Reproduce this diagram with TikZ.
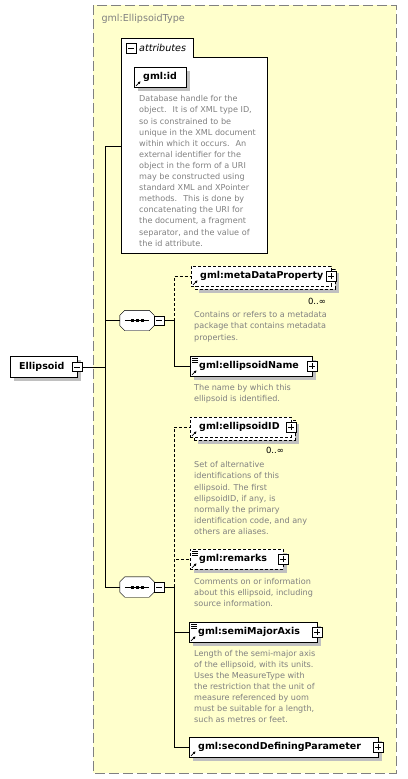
\documentclass[tikz,border=0pt]{standalone}
\usepackage{fontspec}
\setmainfont{DejaVu Sans}
\usetikzlibrary{shadows,arrows.meta}

\definecolor{typefill}{RGB}{255,255,204}
\definecolor{typeline}{RGB}{128,128,128}
\definecolor{doctext}{RGB}{128,128,128}
\definecolor{shade}{RGB}{192,192,192}

\tikzset{
  elembase/.style={draw, fill=white, anchor=north west, minimum height=20pt,
    inner sep=0pt, text width=#1pt, align=left,
    font=\fontsize{9.5}{11}\selectfont\bfseries,
    execute at begin node=\hspace*{9pt}},
  elem/.style={elembase=#1,
    drop shadow={shadow xshift=4pt, shadow yshift=-4pt, fill=shade, opacity=1}},
  optional/.style={dash pattern=on 3pt off 2pt},
  multielem/.style={elembase=#1, optional,
    drop shadow={shadow xshift=8pt, shadow yshift=-7pt, fill=shade, opacity=1},
    copy shadow={shadow xshift=4pt, shadow yshift=-3pt, draw, fill=white, optional}},
  toggle/.style={draw, fill=white, solid, minimum size=9.5pt, inner sep=0pt},
  minus/.style={toggle, path picture={
    \draw ([xshift=-3pt]path picture bounding box.center) -- ([xshift=3pt]path picture bounding box.center);}},
  plus/.style={toggle, path picture={
    \draw ([xshift=-3pt]path picture bounding box.center) -- ([xshift=3pt]path picture bounding box.center);
    \draw ([yshift=-3pt]path picture bounding box.center) -- ([yshift=3pt]path picture bounding box.center);}},
  seq/.style={minimum width=34pt, minimum height=20pt, inner sep=0pt},
  doc/.style={anchor=north west, inner sep=0pt, align=left,
    font=\fontsize{8.1}{11.1}\selectfont, text=doctext},
  mult/.style={inner sep=0pt, font=\fontsize{8.5}{10}\selectfont},
  refarrow/.style={-{Triangle[length=2.5pt,width=2.5pt]}, line width=0.8pt},
}

\begin{document}
\begin{tikzpicture}[x=1pt, y=-1pt]
  \useasboundingbox (0,0) rectangle (407,779);
  % complex type box
  \draw[fill=typefill, draw=typeline, line width=1pt, dash pattern=on 10pt off 4pt] (93,5) rectangle (396,773);
  \node[anchor=west, text=typeline, font=\fontsize{9.6}{11}\selectfont] (typetitle) at (98,19) {gml:EllipsoidType};

  % attributes
  \draw[fill=white] (121,253) -- (121,38) -- (193,38) -- (193,57) -- (267,57) -- (267,253) -- cycle;
  \node[minus] (attrT) at (131,48) {};
  \node[anchor=west, inner sep=0pt, font=\fontsize{9.6}{11}\selectfont\itshape] (attrlabel) at (139,48) {attributes};
  \coordinate (attrhook) at (121,146);
  \node[elem=52] (gmlid) at (134,67) {gml:id};
  \node[doc] (iddoc) at (139,95.5) {Database handle for the\\object.~ It is of XML type ID,\\so is constrained to be\\unique in the XML document\\within which it occurs.~ An\\external identifier for the\\object in the form of a URI\\may be constructed using\\standard XML and XPointer\\methods.~ This is done by\\concatenating the URI for\\the document, a fragment\\separator, and the value of\\the id attribute.};

  % root element
  \node[elem=67, minimum height=21pt] (ellipsoid) at (10,356) {Ellipsoid};
  \node[minus] (ellT) at (ellipsoid.east) {};
  \coordinate (spine) at (105,0);
  \coordinate (branch) at (174,0);

  % sequences
  \node[seq] (seqA) at (137,320.5) {};
  \node[seq] (seqB) at (137,587) {};
  \foreach \s in {seqA,seqB} {
    \fill[shade, shift={(4,4)}] ([xshift=5pt]\s.north west) -- ([xshift=-5pt]\s.north east)
      -- ([yshift=-5pt]\s.north east) -- ([yshift=5pt]\s.south east) -- ([xshift=-5pt]\s.south east)
      -- ([xshift=5pt]\s.south west) -- ([yshift=5pt]\s.south west) -- ([yshift=-5pt]\s.north west) -- cycle;
    \draw[fill=white] ([xshift=5pt]\s.north west) -- ([xshift=-5pt]\s.north east)
      -- ([yshift=-5pt]\s.north east) -- ([yshift=5pt]\s.south east) -- ([xshift=-5pt]\s.south east)
      -- ([xshift=5pt]\s.south west) -- ([yshift=5pt]\s.south west) -- ([yshift=-5pt]\s.north west) -- cycle;
    \draw ([xshift=5pt]\s.west) -- ([xshift=-5pt]\s.east);
    \foreach \dx in {-5,0,5}
      \fill ([xshift=\dx pt]\s.center) +(-1.5,-1.5) rectangle +(1.5,1.5);
  }
  \node[minus, anchor=west] (seqAT) at (seqA.east) {};
  \node[minus, anchor=west] (seqBT) at (seqB.east) {};

  % first sequence
  \node[multielem=140] (mdp) at (191,266) {gml:metaDataProperty};
  \node[plus] (mdpT) at (mdp.east) {};
  \node[mult] (mdpmult) at (317,301) {0..∞};
  \node[doc] (mdpdoc) at (194,311.5) {Contains or refers to a metadata\\package that contains metadata\\properties.};
  \node[elem=122] (ename) at (190,356) {gml:ellipsoidName};
  \node[plus] (enameT) at (ename.east) {};
  \node[doc] (enamedoc) at (194,384) {The name by which this\\ellipsoid is identified.};

  % second sequence
  \node[multielem=101] (eid) at (190,417) {gml:ellipsoidID};
  \node[plus] (eidT) at (eid.east) {};
  \node[mult] (eidmult) at (275,450) {0..∞};
  \node[doc] (eiddoc) at (194,461.5) {Set of alternative\\identifications of this\\ellipsoid. The first\\ellipsoidID, if any, is\\normally the primary\\identification code, and any\\others are aliases.};
  \node[elembase=93, optional, drop shadow={shadow xshift=4pt, shadow yshift=-4pt, fill=shade, opacity=1}] (remarks) at (190,549) {gml:remarks};
  \node[plus] (remarksT) at (remarks.east) {};
  \node[doc] (remarksdoc) at (194,578) {Comments on or information\\about this ellipsoid, including\\source information.};
  \node[elem=128] (sma) at (189,622) {gml:semiMajorAxis};
  \node[plus] (smaT) at (sma.east) {};
  \node[doc] (smadoc) at (194,650) {Length of the semi-major axis\\of the ellipsoid, with its units.\\Uses the MeasureType with\\the restriction that the unit of\\measure referenced by uom\\must be suitable for a length,\\such as metres or feet.};
  \node[elem=189] (sdp) at (189,737) {gml:secondDefiningParameter};
  \node[plus] (sdpT) at (sdp.east) {};

  % icons
  \foreach \n in {gmlid,mdp,ename,eid,remarks,sma,sdp}
    \draw[refarrow] ([shift={(2,-1.5)}]\n.south west) -- ++(4.5,-4.5);
  \foreach \n in {ename,remarks,sma}
    \foreach \dy in {2,4,6}
      \draw[line width=0.6pt] ([shift={(2,\dy)}]\n.north west) -- ++(6,0);

  % connectors
  \draw (ellT.east) -- (ellT.east -| spine);
  \draw (attrhook) -| (seqB.west -| spine) -- (seqB.west);
  \draw (seqA.west) -- (seqA.west -| spine);
  \draw (seqAT.east) -- (seqAT.east -| branch) |- (ename.west);
  \draw[optional] (seqAT.east -| branch) |- (mdp.west);
  \draw (seqBT.east) -- (seqBT.east -| branch) |- (sdp.west);
  \draw (seqBT.east -| branch) |- (sma.west);
  \draw[optional] (seqBT.east -| branch) |- (eid.west);
  \draw[optional] (seqBT.east -| branch) |- (remarks.west);
\end{tikzpicture}
\end{document}
